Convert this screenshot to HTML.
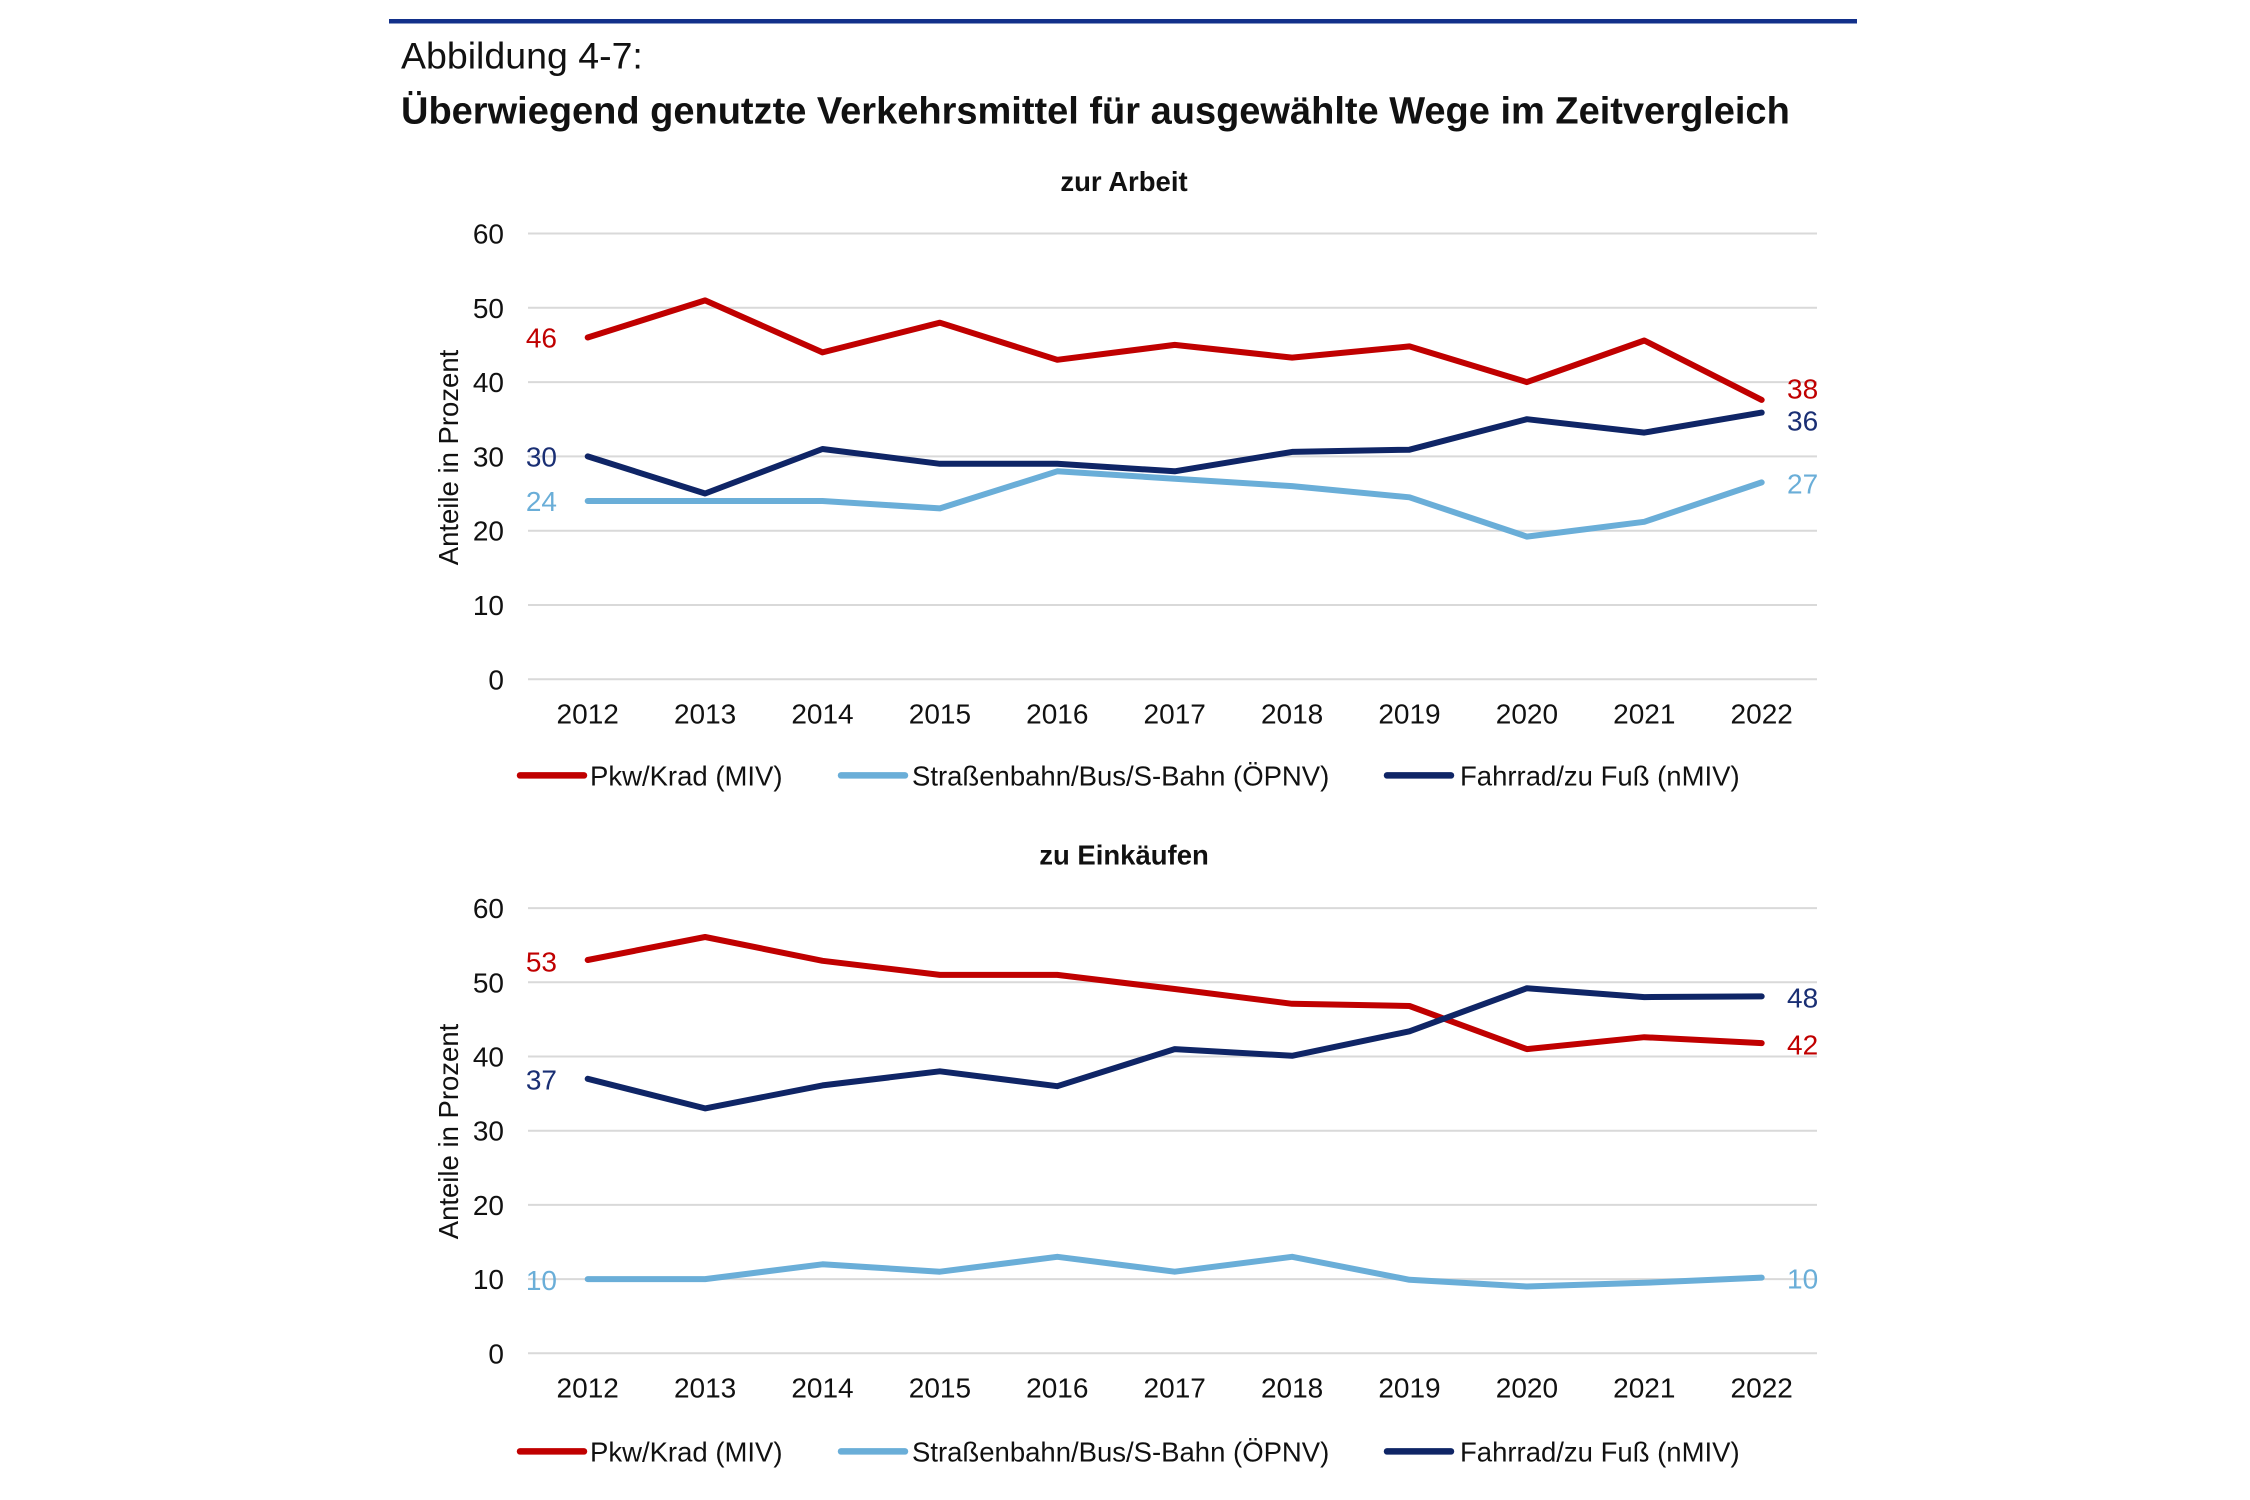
<!DOCTYPE html>
<html>
<head>
<meta charset="utf-8">
<style>
html,body{margin:0;padding:0;background:#fff;}
svg{display:block;}
text{font-family:"Liberation Sans",Arial,sans-serif;}
</style>
</head>
<body>
<svg width="2250" height="1500" viewBox="0 0 2250 1500" xmlns="http://www.w3.org/2000/svg">
<rect x="0" y="0" width="2250" height="1500" fill="#fff"/>
<!-- top rule -->
<rect x="389" y="19" width="1468" height="4.5" fill="#12308a"/>
<text x="401" y="68.5" font-size="37.5" fill="#111">Abbildung 4-7:</text>
<text x="401" y="123.5" font-size="38" font-weight="bold" fill="#111">Überwiegend genutzte Verkehrsmittel für ausgewählte Wege im Zeitvergleich</text>

<!-- ============ CHART 1 ============ -->
<text x="1124" y="191" font-size="27.5" font-weight="bold" text-anchor="middle" fill="#111">zur Arbeit</text>
<g stroke="#d9d9d9" stroke-width="2">
<line x1="528" y1="233.5" x2="1817" y2="233.5"/>
<line x1="528" y1="307.8" x2="1817" y2="307.8"/>
<line x1="528" y1="382.1" x2="1817" y2="382.1"/>
<line x1="528" y1="456.4" x2="1817" y2="456.4"/>
<line x1="528" y1="530.7" x2="1817" y2="530.7"/>
<line x1="528" y1="605" x2="1817" y2="605"/>
<line x1="528" y1="679.3" x2="1817" y2="679.3"/>
</g>
<g font-size="28" fill="#111" text-anchor="end">
<text x="504" y="243.5">60</text>
<text x="504" y="317.8">50</text>
<text x="504" y="392.1">40</text>
<text x="504" y="466.4">30</text>
<text x="504" y="540.7">20</text>
<text x="504" y="615">10</text>
<text x="504" y="689.3">0</text>
</g>
<text transform="translate(458,457.5) rotate(-90)" font-size="27.5" fill="#111" text-anchor="middle">Anteile in Prozent</text>
<g font-size="28" fill="#111" text-anchor="middle">
<text x="587.7" y="723.6">2012</text>
<text x="705.1" y="723.6">2013</text>
<text x="822.5" y="723.6">2014</text>
<text x="939.9" y="723.6">2015</text>
<text x="1057.3" y="723.6">2016</text>
<text x="1174.7" y="723.6">2017</text>
<text x="1292.1" y="723.6">2018</text>
<text x="1409.5" y="723.6">2019</text>
<text x="1526.9" y="723.6">2020</text>
<text x="1644.3" y="723.6">2021</text>
<text x="1761.7" y="723.6">2022</text>
</g>
<g fill="none" stroke-width="6" stroke-linejoin="round" stroke-linecap="round">
<polyline stroke="#c00000" points="587.7,337.5 705.1,300.4 822.5,352.4 939.9,322.7 1057.3,359.8 1174.7,344.9 1292.1,357.6 1409.5,346.4 1526.9,382.1 1644.3,340.5 1761.7,399.9"/>
<polyline stroke="#6aaed8" points="587.7,501 705.1,501 822.5,501 939.9,508.4 1057.3,471.3 1174.7,478.7 1292.1,486.1 1409.5,497.3 1526.9,536.6 1644.3,521.8 1761.7,482.4"/>
<polyline stroke="#0f2566" points="587.7,456.4 705.1,493.5 822.5,449 939.9,463.8 1057.3,463.8 1174.7,471.3 1292.1,451.9 1409.5,449.7 1526.9,419.2 1644.3,432.6 1761.7,412.6"/>
</g>
<g font-size="28">
<text x="557" y="347.5" text-anchor="end" fill="#c00000">46</text>
<text x="557" y="466.4" text-anchor="end" fill="#1a2f74">30</text>
<text x="557" y="511" text-anchor="end" fill="#6aaed8">24</text>
<text x="1787" y="398.3" fill="#c00000">38</text>
<text x="1787" y="430.7" fill="#1a2f74">36</text>
<text x="1787" y="493.3" fill="#6aaed8">27</text>
</g>
<!-- legend 1 -->
<g stroke-width="6.5" stroke-linecap="round">
<line x1="520" y1="775.4" x2="584" y2="775.4" stroke="#c00000"/>
<line x1="841" y1="775.4" x2="905" y2="775.4" stroke="#6aaed8"/>
<line x1="1387" y1="775.4" x2="1451" y2="775.4" stroke="#0f2566"/>
</g>
<g font-size="27.5" fill="#111">
<text x="590" y="785.4">Pkw/Krad (MIV)</text>
<text x="912" y="785.4">Straßenbahn/Bus/S-Bahn (ÖPNV)</text>
<text x="1460" y="785.4">Fahrrad/zu Fuß (nMIV)</text>
</g>

<!-- ============ CHART 2 ============ -->
<text x="1124" y="864.5" font-size="27.5" font-weight="bold" text-anchor="middle" fill="#111">zu Einkäufen</text>
<g stroke="#d9d9d9" stroke-width="2">
<line x1="528" y1="908.1" x2="1817" y2="908.1"/>
<line x1="528" y1="982.3" x2="1817" y2="982.3"/>
<line x1="528" y1="1056.5" x2="1817" y2="1056.5"/>
<line x1="528" y1="1130.7" x2="1817" y2="1130.7"/>
<line x1="528" y1="1204.9" x2="1817" y2="1204.9"/>
<line x1="528" y1="1279.1" x2="1817" y2="1279.1"/>
<line x1="528" y1="1353.3" x2="1817" y2="1353.3"/>
</g>
<g font-size="28" fill="#111" text-anchor="end">
<text x="504" y="918.1">60</text>
<text x="504" y="992.3">50</text>
<text x="504" y="1066.5">40</text>
<text x="504" y="1140.7">30</text>
<text x="504" y="1214.9">20</text>
<text x="504" y="1289.1">10</text>
<text x="504" y="1363.3">0</text>
</g>
<text transform="translate(458,1131.5) rotate(-90)" font-size="27.5" fill="#111" text-anchor="middle">Anteile in Prozent</text>
<g font-size="28" fill="#111" text-anchor="middle">
<text x="587.7" y="1397.5">2012</text>
<text x="705.1" y="1397.5">2013</text>
<text x="822.5" y="1397.5">2014</text>
<text x="939.9" y="1397.5">2015</text>
<text x="1057.3" y="1397.5">2016</text>
<text x="1174.7" y="1397.5">2017</text>
<text x="1292.1" y="1397.5">2018</text>
<text x="1409.5" y="1397.5">2019</text>
<text x="1526.9" y="1397.5">2020</text>
<text x="1644.3" y="1397.5">2021</text>
<text x="1761.7" y="1397.5">2022</text>
</g>
<g fill="none" stroke-width="6" stroke-linejoin="round" stroke-linecap="round">
<polyline stroke="#c00000" points="587.7,960 705.1,937 822.5,960.8 939.9,974.9 1057.3,974.9 1174.7,989 1292.1,1003.8 1409.5,1006 1526.9,1049.1 1644.3,1037.2 1761.7,1043.1"/>
<polyline stroke="#6aaed8" points="587.7,1279.1 705.1,1279.1 822.5,1264.3 939.9,1271.7 1057.3,1256.8 1174.7,1271.7 1292.1,1256.8 1409.5,1279.8 1526.9,1286.5 1644.3,1282.8 1761.7,1277.6"/>
<polyline stroke="#0f2566" points="587.7,1078.8 705.1,1108.4 822.5,1085.4 939.9,1071.3 1057.3,1086.2 1174.7,1049.1 1292.1,1055.8 1409.5,1031.3 1526.9,988.2 1644.3,997.1 1761.7,996.4"/>
</g>
<g font-size="28">
<text x="557" y="971.7" text-anchor="end" fill="#c00000">53</text>
<text x="557" y="1089.3" text-anchor="end" fill="#1a2f74">37</text>
<text x="557" y="1290" text-anchor="end" fill="#6aaed8">10</text>
<text x="1787" y="1007.3" fill="#1a2f74">48</text>
<text x="1787" y="1054.3" fill="#c00000">42</text>
<text x="1787" y="1288.3" fill="#6aaed8">10</text>
</g>
<!-- legend 2 -->
<g stroke-width="6.5" stroke-linecap="round">
<line x1="520" y1="1451.4" x2="584" y2="1451.4" stroke="#c00000"/>
<line x1="841" y1="1451.4" x2="905" y2="1451.4" stroke="#6aaed8"/>
<line x1="1387" y1="1451.4" x2="1451" y2="1451.4" stroke="#0f2566"/>
</g>
<g font-size="27.5" fill="#111">
<text x="590" y="1461.4">Pkw/Krad (MIV)</text>
<text x="912" y="1461.4">Straßenbahn/Bus/S-Bahn (ÖPNV)</text>
<text x="1460" y="1461.4">Fahrrad/zu Fuß (nMIV)</text>
</g>
</svg>
</body>
</html>
